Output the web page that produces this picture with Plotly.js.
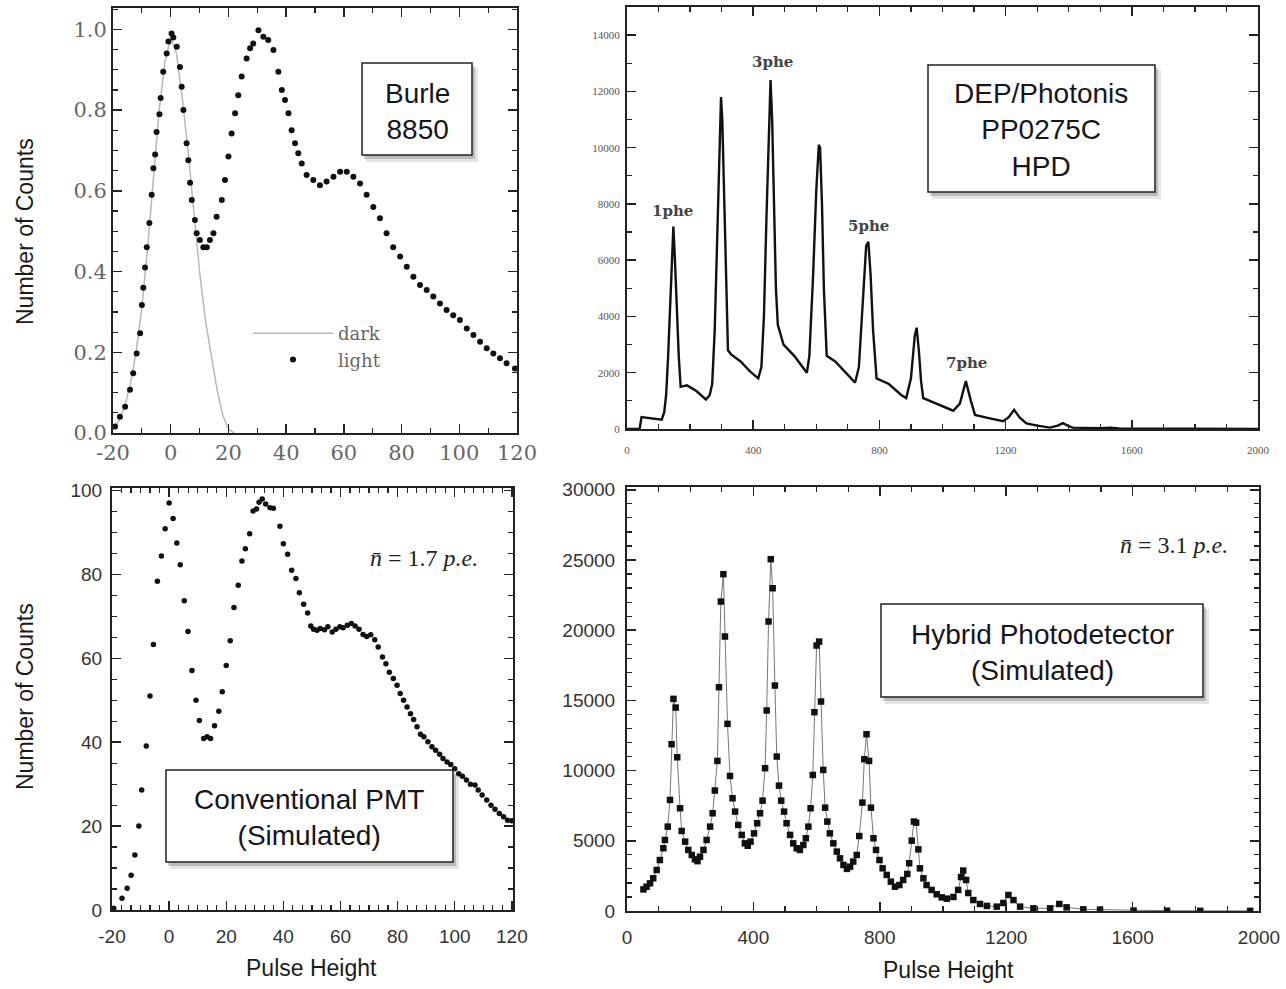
<!DOCTYPE html>
<html><head><meta charset="utf-8">
<script src="https://cdn.plot.ly/plotly-3.0.1.min.js"></script>
<style>html,body{margin:0;padding:0;background:#fff}#chart{width:1286px;height:989px}</style>
</head><body><div id="chart"></div>
<script>
// ---------- Burle 8850 (top-left) ----------
const darkX = [-20,-18,-16,-14,-12,-10,-8,-6,-4,-2,0,2,4,6,8,10,12,14,16,18,20,22];
const darkY = [0.01,0.03,0.065,0.12,0.2,0.31,0.46,0.64,0.8,0.92,0.98,0.94,0.83,0.7,0.54,0.4,0.28,0.19,0.11,0.045,0.01,0];
const lightX = [-19.3,-17.6,-15.8,-14.1,-13,-11.8,-10.6,-10,-9.5,-8.9,-8.3,-7.4,-6.6,-6,-5.4,-4.9,-3.9,-3.5,-2.6,-1.4,-0.8,0.3,0.9,2.1,3.2,3.8,4.4,5.5,6.1,6.7,7.3,8.4,9,10.1,11.3,12.5,13.6,14.8,15.9,17.7,18.8,20,21.1,22.3,23.4,24.6,26.3,27.5,28.6,30.4,32.1,33.8,35.6,37.3,38.5,39.6,40.8,41.9,43.1,44.2,45.4,47.1,49.4,51.7,54,56.4,58.7,61,63.3,65.6,67.9,70.2,72.5,74.8,77.1,79.5,81.8,84.1,86.4,88.7,91,93.3,95.6,97.9,100.2,102.6,104.9,107.2,109.5,111.8,114.1,116.4,119.3];
const lightY = [0.016,0.04,0.065,0.107,0.148,0.197,0.247,0.317,0.36,0.41,0.46,0.52,0.59,0.656,0.69,0.746,0.79,0.83,0.895,0.94,0.97,0.99,0.98,0.957,0.907,0.858,0.8,0.718,0.676,0.62,0.577,0.528,0.495,0.478,0.46,0.46,0.478,0.495,0.536,0.577,0.627,0.685,0.742,0.792,0.837,0.883,0.928,0.953,0.965,0.998,0.982,0.974,0.949,0.895,0.85,0.825,0.792,0.75,0.718,0.693,0.668,0.639,0.627,0.614,0.623,0.635,0.647,0.647,0.635,0.618,0.59,0.56,0.532,0.495,0.46,0.437,0.412,0.387,0.367,0.354,0.338,0.321,0.305,0.292,0.28,0.259,0.243,0.226,0.21,0.197,0.185,0.173,0.16];
const phTickVals = [-20,0,20,40,60,80,100,120];
const phTickText = ['-20','0','20','40','60','80','100','120'];

// ---------- DEP/Photonis PP0275C HPD (top-right) ----------
const hpdX = [0,40,46,80,110,118,124,130,136,142,147,152,158,164,170,190,220,250,262,270,278,286,292,298,302,308,314,320,330,360,390,416,426,434,442,450,455,460,466,472,478,496,530,570,578,590,600,608,612,618,624,633,660,700,723,735,748,758,765,772,780,791,830,870,885,900,912,918,925,932,939,980,1034,1055,1074,1090,1103,1150,1192,1210,1227,1245,1266,1300,1341,1365,1382,1400,1413,1500,1531,1560,1700,2000];
const hpdY = [0,0,420,380,330,600,1200,2500,4000,5800,7200,6000,4200,2600,1500,1550,1350,1050,1200,1600,3500,6500,9500,11800,11000,8500,5500,2800,2650,2400,2050,1800,2200,4000,7500,11000,12400,11000,7500,5000,3700,3000,2600,2000,2600,5500,8500,10100,10000,8000,5000,2600,2400,1900,1650,2200,4500,6500,6650,5500,3500,1800,1600,1200,1100,1800,3300,3600,2800,1700,1100,900,650,900,1700,1000,500,380,280,420,680,400,200,120,50,120,210,100,50,30,50,20,10,0];
const peakLabels = ["1phe","3phe","5phe","7phe"];

// ---------- Conventional PMT (simulated, bottom-left) ----------
const pmtX = [-19.4,-16.5,-14.7,-13.3,-12,-10.6,-9.6,-8,-6.7,-5.5,-4.1,-2.7,-1.4,0,1.4,2.7,3.9,5.3,6.6,8,9.4,10.6,12.1,13.3,14.5,15.9,17.4,18.6,20,21.4,22.7,24.2,25.5,26.7,28.2,29.4,30.6,31.5,32.6,33.8,35.3,36.5,38.8,40,41.5,42.9,44.4,45.6,47.1,48.5,49.6,50.6,51.8,52.9,54.4,55.6,57.1,58.4,59.8,60.9,62.4,63.8,65.1,66.5,67.9,69.2,70.6,72,73.2,74.7,75.9,77.1,78.5,79.8,80.9,82.1,83.3,84.5,85.6,86.8,88,89.2,90.6,92,93.3,94.7,95.9,97.3,98.6,100,101.4,102.7,104.1,105.5,107.1,108.2,109.6,111.2,112.7,114.1,115.6,117.1,118.5,120];
const pmtY = [0.4,2.8,5.2,8.3,13.1,20,28.6,39.1,51,63.3,78.4,84.4,90.9,97,93.3,87.5,82.3,73.7,66.4,57.1,50,45.2,40.9,41.3,40.9,43.9,47.4,52,58.3,64.2,72.1,77.4,83.2,86.1,89.7,95.1,95.6,97.2,98,96.8,95.9,95.8,91.5,87.3,84.8,81,79,75.6,72.9,70.8,67.7,66.9,66.7,67.1,66.8,67.5,66.3,66.9,67.5,67.3,67.9,68.3,67.7,66.9,65.7,65.2,65.6,64.4,62.7,60.3,58.7,56.7,55.2,53.6,51.6,50,48.4,46.8,45.4,43.7,41.9,41.3,40.1,38.9,38.1,37.1,36.1,35.3,34.7,33.7,32.5,31.9,31,30,29.8,28.6,27.4,26.2,25,24,23,22.2,21.4,21.3];

// ---------- Hybrid Photodetector (simulated, bottom-right) ----------
const hybX = [52,62,73,83,94,104,115,120,129,136,141,147,154,159,168,173,184,194,205,215,223,231,242,252,263,271,278,286,291,297,305,310,318,326,334,342,352,363,373,382,391,402,412,421,429,437,442,448,455,461,468,474,481,488,497,505,516,526,537,547,558,566,574,581,588,593,600,608,614,621,627,634,642,653,664,674,685,696,706,716,727,735,745,751,758,766,772,780,788,799,809,822,835,848,862,874,887,893,901,908,915,922,927,938,948,964,980,996,1012,1033,1048,1057,1064,1073,1080,1096,1117,1139,1170,1191,1207,1223,1244,1286,1339,1368,1391,1444,1497,1603,1709,1814,1972];
const hybY = [1540,1730,1970,2330,2920,3630,4470,5060,6010,7910,11880,15110,14490,10950,7320,5700,4940,4350,3990,3680,3550,3870,4350,5060,6010,6960,8580,10690,15940,22040,23990,19550,13330,9620,8030,7080,6130,5420,4820,4650,4940,5530,6250,6960,7860,10170,14280,20620,25060,22990,16060,11000,8930,7860,7080,6250,5420,4820,4470,4350,4700,5180,6010,7320,9690,14160,18910,19190,14920,10050,7360,6370,5530,4820,4230,3750,3280,3000,3160,3520,3990,5340,7720,10810,12590,10690,7360,5180,4350,3630,3040,2570,2090,1730,1850,2210,2640,3400,5010,6370,6290,4390,3040,2330,1850,1500,1190,970,880,1000,1500,2420,2880,2210,1280,780,500,360,310,570,1140,780,310,190,190,500,260,120,100,30,20,10,10];

// ---------- layout helpers (pixel -> paper) ----------
const W = 1286, H = 989;
const px = v => v / W;
const py = v => 1 - v / H;

const serifTL = {family: 'DejaVu Serif', size: 21, color: '#666'};
const serifTR = {family: 'Liberation Serif', size: 11, color: '#555'};
const sansB = {family: 'Liberation Sans, Arial', size: 19, color: '#333'};

function ax(domain, range, dtick, minorDtick, font, opts) {
  return Object.assign({
    domain: domain, range: range, dtick: dtick, showgrid: false, zeroline: false,
    showline: true, linecolor: '#222', linewidth: 2, mirror: 'allticks',
    ticks: 'inside', ticklen: 9, tickwidth: 1.5, tickcolor: '#222',
    minor: {ticks: 'inside', dtick: minorDtick, ticklen: 5, tickwidth: 1.2, tickcolor: '#222', showgrid: false},
    tickfont: font, fixedrange: true
  }, opts || {});
}

const traces = [
  {x: darkX, y: darkY, xaxis: 'x', yaxis: 'y', type: 'scatter', mode: 'lines', name: 'dark',
   line: {color: '#b8b8b8', width: 1.5}},
  {x: lightX, y: lightY, xaxis: 'x', yaxis: 'y', type: 'scatter', mode: 'markers', name: 'light',
   marker: {color: '#111', size: 6}},
  {x: hpdX, y: hpdY, xaxis: 'x2', yaxis: 'y2', type: 'scatter', mode: 'lines', showlegend: false,
   line: {color: '#111', width: 2.4}},
  {x: pmtX, y: pmtY, xaxis: 'x3', yaxis: 'y3', type: 'scatter', mode: 'markers', showlegend: false,
   marker: {color: '#111', size: 5.5}},
  {x: hybX, y: hybY, xaxis: 'x4', yaxis: 'y4', type: 'scatter', mode: 'lines+markers', showlegend: false,
   line: {color: '#777', width: 1}, marker: {color: '#111', size: 6.5, symbol: 'square'}}
];

function box(x0, y0, x1, y1) {
  return [
    {type: 'rect', xref: 'paper', yref: 'paper', x0: px(x0 + 4), x1: px(x1 + 6), y0: py(y1 + 7), y1: py(y0 + 5),
     fillcolor: 'rgba(0,0,0,0.10)', line: {width: 0}, layer: 'above'},
    {type: 'rect', xref: 'paper', yref: 'paper', x0: px(x0 + 2), x1: px(x1 + 3), y0: py(y1 + 4), y1: py(y0 + 3),
     fillcolor: 'rgba(0,0,0,0.18)', line: {width: 0}, layer: 'above'},
    {type: 'rect', xref: 'paper', yref: 'paper', x0: px(x0), x1: px(x1), y0: py(y1), y1: py(y0),
     fillcolor: '#fff', line: {color: '#222', width: 1.5}, layer: 'above'}
  ];
}

const shapes = [].concat(box(362, 63, 472, 155), box(928, 65, 1155, 192), box(166, 770, 453, 862), box(881, 604, 1203, 697));

function txt(x, y, text, font, extra) {
  return Object.assign({xref: 'paper', yref: 'paper', x: px(x), y: py(y), text: text, showarrow: false,
    xanchor: 'center', yanchor: 'middle', font: font}, extra || {});
}
const boxFont = {family: 'Liberation Sans, Arial', size: 28, color: '#151520'};
const titleFont = {family: 'Liberation Sans, Arial', size: 23, color: '#1a1a1a'};
const peakFont = {family: 'DejaVu Serif', size: 15, color: '#444', weight: 'bold'};
const nFont = {family: 'Liberation Serif', size: 24, color: '#222'};

const annotations = [
  txt(417, 111, 'Burle<br>8850', boxFont),
  txt(1041, 130, 'DEP/Photonis<br>PP0275C<br>HPD', boxFont),
  txt(309, 817, 'Conventional PMT<br>(Simulated)', boxFont),
  txt(1042, 652, 'Hybrid Photodetector<br>(Simulated)', boxFont),
  txt(672, 211, peakLabels[0], peakFont),
  txt(772, 62, peakLabels[1], peakFont),
  txt(868, 226, peakLabels[2], peakFont),
  txt(966, 363, peakLabels[3], peakFont),
  txt(424, 558, '<i>n\u0304</i> = 1.7 <i>p.e.</i>', nFont),
  txt(1174, 545, '<i>n\u0304</i> = 3.1 <i>p.e.</i>', nFont),
  txt(25, 232, 'Number of Counts', titleFont, {textangle: -90}),
  txt(25, 697, 'Number of Counts', titleFont, {textangle: -90}),
  txt(311, 968, 'Pulse Height', titleFont),
  txt(948, 970, 'Pulse Height', titleFont)
];

const layout = {
  width: W, height: H, margin: {l: 0, r: 0, t: 0, b: 0},
  paper_bgcolor: '#fff', plot_bgcolor: '#fff',
  showlegend: true,
  legend: {x: px(248), y: py(315), xanchor: 'left', yanchor: 'top', bgcolor: 'rgba(0,0,0,0)',
           font: {family: 'DejaVu Serif', size: 18, color: '#666'}, itemwidth: 80, tracegroupgap: 0},
  xaxis: ax([px(113), px(517)], [-20, 120], 20, 10, serifTL, {anchor: 'y', tickmode: 'array', tickvals: phTickVals, ticktext: phTickText}),
  yaxis: ax([py(433), py(8)], [0, 1.053], 0.2, 0.05, serifTL, {anchor: 'x', tickformat: '.1f'}),
  xaxis2: ax([px(627), px(1258)], [0, 2000], 400, 100, serifTR, {anchor: 'y2', ticklabelstandoff: 10}),
  yaxis2: ax([py(429), py(7)], [0, 15000], 2000, 1000, serifTR, {anchor: 'x2', tickformat: 'd', ticklabelstandoff: 3}),
  xaxis3: ax([px(112), px(513)], [-20, 120.4], 20, 10/3, sansB, {anchor: 'y3', tickmode: 'array', tickvals: phTickVals, ticktext: phTickText, ticklabelstandoff: 8}),
  yaxis3: ax([py(910), py(488)], [0, 100.6], 20, 5, sansB, {anchor: 'x3', ticklabelstandoff: 4}),
  xaxis4: ax([px(627), px(1259)], [0, 2000], 400, 100, sansB, {anchor: 'y4', ticklabelstandoff: 8}),
  yaxis4: ax([py(911), py(487)], [0, 30200], 5000, 1000, sansB, {anchor: 'x4', tickformat: 'd', ticklabelstandoff: 6}),
  shapes: shapes,
  annotations: annotations
};
layout.xaxis.minor.dtick = 10; layout.xaxis.minor.tick0 = -20;
layout.xaxis3.minor.tick0 = -20;

Plotly.newPlot('chart', traces, layout, {staticPlot: true, displayModeBar: false});
</script>
</body></html>
